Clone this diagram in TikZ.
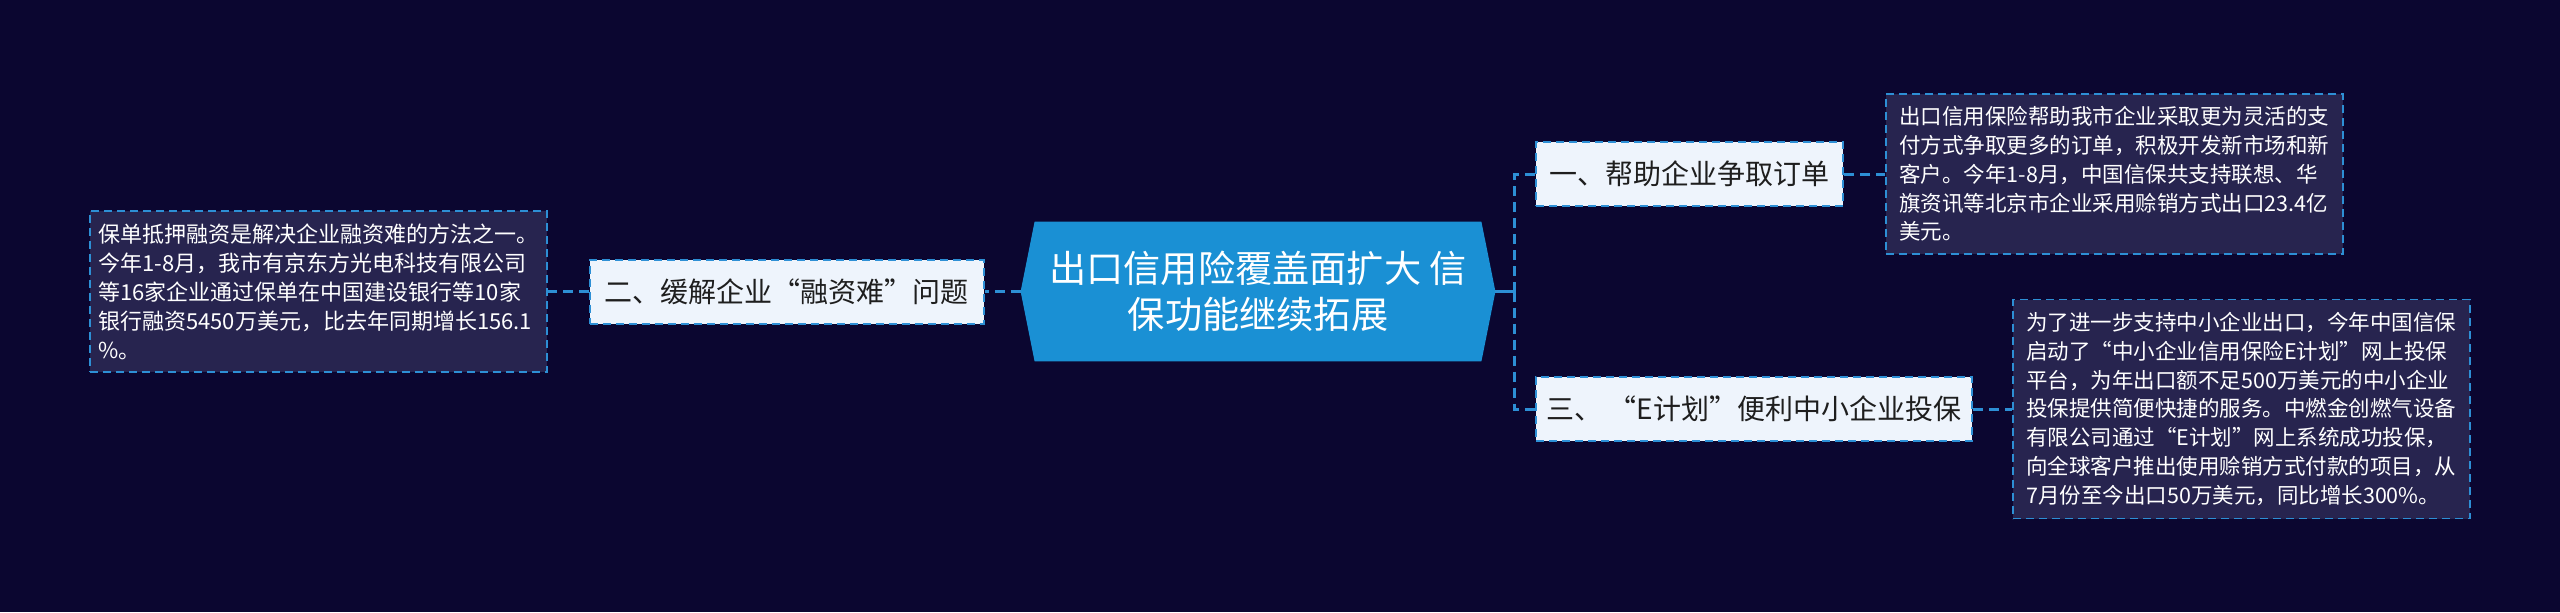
\documentclass[tikz,border=0pt]{standalone}
\usepackage{fontspec}
\setmainfont{Noto Sans CJK SC}
\usetikzlibrary{positioning, backgrounds}
\definecolor{pagebg}{HTML}{0B0630}
\definecolor{notefill}{HTML}{27244F}
\definecolor{linkblue}{HTML}{2D8FD5}
\definecolor{rootblue}{HTML}{1A90D4}
\definecolor{branchfill}{HTML}{EEF4FC}
\definecolor{branchtext}{HTML}{1E1E1E}
\pgfdeclarelayer{backdrop}
\pgfsetlayers{backdrop,background,main}
\tikzset{
  rootbox/.style={rectangle, text=white, align=center,
                  font=\fontsize{18.6pt}{23pt}\selectfont,
                  minimum width=223pt, minimum height=69.5pt, inner sep=0pt},
  branch/.style={rectangle, draw=linkblue, line width=1pt,
                 dash pattern=on 4pt off 2.5pt, fill=branchfill,
                 text=branchtext, font=\fontsize{14pt}{17pt}\selectfont,
                 minimum height=32pt, inner sep=0pt},
  note/.style={rectangle, draw=linkblue, line width=0.8pt,
               dash pattern=on 4pt off 2.5pt, fill=notefill, text=white,
               font=\fontsize{10.75pt}{14.35pt}\selectfont, align=left,
               minimum width=228.5pt, inner sep=0pt},
  link/.style={draw=linkblue, line width=1.5pt},
  linkdash/.style={link, dash pattern=on 5pt off 3pt},
}
\begin{document}
\begin{tikzpicture}
  \useasboundingbox (0,0) rectangle (1280pt,-306pt);
  \begin{pgfonlayer}{backdrop}
    \fill[pagebg] (0,0) rectangle (1280pt,-306pt);
  \end{pgfonlayer}
  %% Root
  \node[rootbox] (root) at (629pt,-145.75pt)
    {出口信用险覆盖面扩大 信\\保功能继续拓展};
  \coordinate (ltip) at ([xshift=-7pt]root.west);
  \coordinate (rtip) at ([xshift=7pt]root.east);
  \begin{scope}[on background layer]
    \fill[rootblue] (root.north west) -- (root.north east) -- (rtip)
      -- (root.south east) -- (root.south west) -- (ltip) -- cycle;
  \end{scope}
  %% Left branch
  \node[branch, left=18pt of ltip, minimum width=197pt] (two)
    {二、缓解企业“融资难”问题};
  \node[note, left=20.5pt of two, minimum height=80.5pt,
        font=\fontsize{11pt}{14.5pt}\selectfont] (twonote)
    {保单抵押融资是解决企业融资难的方法之一。\\
     今年1-8月，我市有京东方光电科技有限公司\\
     等16家企业通过保单在中国建设银行等10家\\
     银行融资5450万美元，比去年同期增长156.1\\
     \%。};
  \draw[linkdash] (ltip) -- (two.east);
  \draw[linkdash] (two.west) -- (twonote.east);
  %% Right branches
  \coordinate[right=9.5pt of rtip] (bus);
  \node[branch, anchor=west, minimum width=153.5pt] (one) at (767.5pt,-87pt)
    {一、帮助企业争取订单};
  \node[branch, anchor=west, minimum width=218pt] (three) at (767.5pt,-204.5pt)
    {三、 “E计划”便利中小企业投保};
  \node[note, right=20.5pt of one, minimum height=80pt] (onenote)
    {出口信用保险帮助我市企业采取更为灵活的支\\
     付方式争取更多的订单，积极开发新市场和新\\
     客户。今年1-8月，中国信保共支持联想、华\\
     旗资讯等北京市企业采用赊销方式出口23.4亿\\
     美元。};
  \node[note, right=19.5pt of three, minimum height=109.5pt] (threenote)
    {为了进一步支持中小企业出口，今年中国信保\\
     启动了“中小企业信用保险E计划”网上投保\\
     平台，为年出口额不足500万美元的中小企业\\
     投保提供简便快捷的服务。中燃金创燃气设备\\
     有限公司通过“E计划”网上系统成功投保，\\
     向全球客户推出使用赊销方式付款的项目，从\\
     7月份至今出口50万美元，同比增长300\%。};
  \draw[link] (rtip) -- (bus);
  \draw[linkdash] (bus) |- (one.west);
  \draw[linkdash] (bus) |- (three.west);
  \draw[linkdash] (one.east) -- (onenote.west);
  \draw[linkdash] (three.east) -- (threenote.west);
\end{tikzpicture}
\end{document}
